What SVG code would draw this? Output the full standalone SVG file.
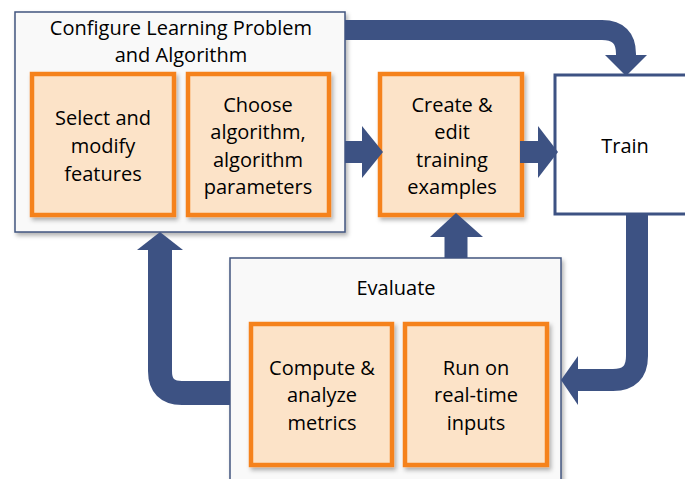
<svg xmlns="http://www.w3.org/2000/svg" width="685" height="479" viewBox="0 0 685 479">
<defs>
<filter id="sh" x="-10%" y="-10%" width="130%" height="130%">
<feDropShadow dx="2" dy="3" stdDeviation="2" flood-color="#000" flood-opacity="0.3"/>
</filter>
<style>
.grp{fill:#f9f9f9;stroke:#41557f;stroke-width:1.5;filter:url(#sh)}
.step{fill:#fce3c8;stroke:#f5821f;stroke-width:4.5;filter:url(#sh)}
.train{fill:#fff;stroke:#3d5283;stroke-width:3}
text{font-family:"Open Sans","Liberation Sans",sans-serif;font-size:20px;fill:#000;text-anchor:middle}
.shaft{fill:none;stroke:#3d5283}
.head{fill:#3d5283}
</style>
</defs>
<rect width="685" height="479" fill="#fff"/>
<g id="configure">
<rect class="grp" x="15" y="12" width="330" height="220"/>
<text x="181" y="35">Configure Learning Problem</text>
<text x="181" y="62">and Algorithm</text>
</g>
<g id="select-features">
<rect class="step" x="32" y="74" width="142" height="141"/>
<text x="103" y="125">Select and</text>
<text x="103" y="153">modify</text>
<text x="103" y="181">features</text>
</g>
<g id="choose-algorithm">
<rect class="step" x="188" y="74" width="141" height="141"/>
<text x="258" y="112">Choose</text>
<text x="258" y="139">algorithm,</text>
<text x="258" y="167">algorithm</text>
<text x="258" y="194">parameters</text>
</g>
<g id="create-examples">
<rect class="step" x="380" y="74" width="142" height="141"/>
<text x="452" y="112">Create &amp;</text>
<text x="452" y="139">edit</text>
<text x="452" y="167">training</text>
<text x="452" y="194">examples</text>
</g>
<g id="train">
<rect class="train" x="555" y="75" width="140" height="139"/>
<text x="625" y="153">Train</text>
</g>
<g id="evaluate">
<rect class="grp" x="230" y="258" width="331" height="240"/>
<text x="396" y="295">Evaluate</text>
</g>
<g id="compute-metrics">
<rect class="step" x="251" y="324" width="141" height="141"/>
<text x="322" y="375">Compute &amp;</text>
<text x="322" y="402">analyze</text>
<text x="322" y="430">metrics</text>
</g>
<g id="run-inputs">
<rect class="step" x="405" y="324" width="142" height="141"/>
<text x="476" y="375">Run on</text>
<text x="476" y="402">real-time</text>
<text x="476" y="430">inputs</text>
</g>
<g id="connectors">
<path class="shaft" stroke-width="20" d="M345,30 H602 Q626,30 626,54 V56"/>
<polygon class="head" points="605,55 647,55 626,76"/>
<path class="shaft" stroke-width="22" d="M345,152 H363"/>
<polygon class="head" points="362,126 362,178 383,152"/>
<path class="shaft" stroke-width="22" d="M520,152 H539"/>
<polygon class="head" points="538,126 538,178 558,152"/>
<path class="shaft" stroke-width="22" d="M637,213 V356 Q637,380 613,380 H578"/>
<polygon class="head" points="578,356 578,405 561,380"/>
<path class="shaft" stroke-width="23" d="M456,258 V236"/>
<polygon class="head" points="430,237 483,237 456,213"/>
<path class="shaft" stroke-width="24" d="M230,393 H182 Q160,393 160,371 V249"/>
<polygon class="head" points="137,250 183,250 160,232"/>
</g>
</svg>
